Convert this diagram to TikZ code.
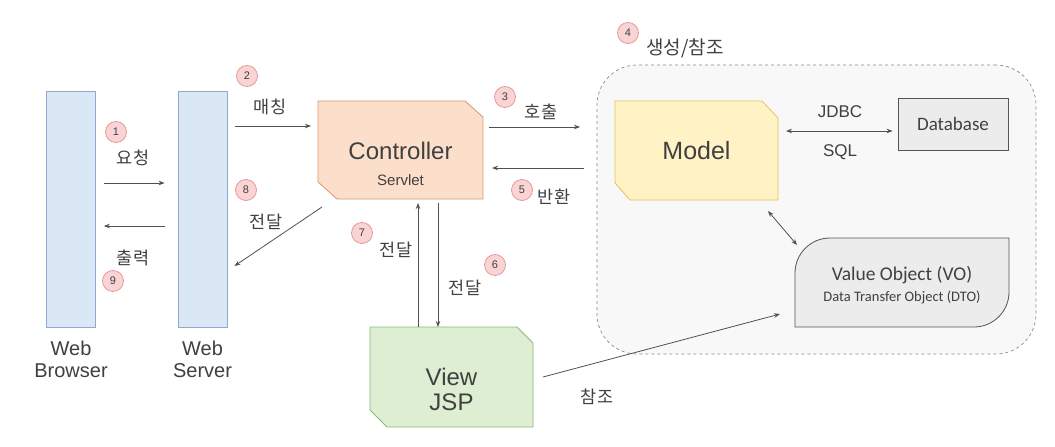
\documentclass[tikz,border=0pt]{standalone}
\usepackage{fontspec}
\setmainfont{Liberation Sans}
\newfontfamily\krfont{Noto Sans CJK KR}
\newfontfamily\calfont{Carlito}
\usetikzlibrary{arrows.meta,calc}
\definecolor{txt}{HTML}{404040}
\definecolor{ln}{HTML}{505050}
\definecolor{barfill}{HTML}{DAE8F5}
\definecolor{barline}{HTML}{8FAACC}
\definecolor{ctrlfill}{HTML}{FBDFCB}
\definecolor{ctrlline}{HTML}{D89A6E}
\definecolor{modelfill}{HTML}{FFF2C4}
\definecolor{modelline}{HTML}{E2C35A}
\definecolor{viewfill}{HTML}{DDEED3}
\definecolor{viewline}{HTML}{8DB877}
\definecolor{grayfill}{HTML}{ECECEC}
\definecolor{grayline}{HTML}{555555}
\definecolor{badgefill}{HTML}{FAD4D4}
\definecolor{badgeline}{HTML}{E59A9A}
\definecolor{contfill}{HTML}{F8F8F8}
\definecolor{contline}{HTML}{8A8A8A}
\newcommand{\fsz}[1]{\fontsize{#1}{#1}\selectfont}
\tikzset{
  ghost/.style={draw=none,inner sep=0pt,outer sep=0pt},
  bar/.style={draw=barline,fill=barfill,line width=0.8pt,inner sep=0pt,minimum width=49pt,minimum height=236pt},
  arr/.style={draw=ln,line width=0.8pt,-{Stealth[length=6pt,width=4.5pt]}},
  darr/.style={draw=ln,line width=0.8pt,{Stealth[length=6pt,width=4.5pt]}-{Stealth[length=6pt,width=4.5pt]}},
  badge/.style={circle,draw=badgeline,fill=badgefill,line width=0.8pt,minimum size=21pt,inner sep=0pt,text=txt,font=\fsz{11}},
  krlabel/.style={text=txt,font=\krfont\fsz{17.5},inner sep=0pt},
  lab/.style={text=txt,inner sep=0pt},
}
\begin{document}
\begin{tikzpicture}[x=1pt,y=-1pt]
\useasboundingbox[fill=white] (0,0) rectangle (1055,447);

% container
\node[draw=contline,fill=contfill,dashed,line width=0.7pt,rounded corners=40pt,minimum width=439pt,minimum height=289pt,inner sep=0pt] (mvc) at (816.5,209.5) {};

% bars
\node[bar] (browser) at (71,209) {};
\node[bar] (server) at (202.5,209) {};
\node[lab,font=\fsz{20},align=center] (browserlab) at (71,359) {Web\\[2pt]Browser};
\node[lab,font=\fsz{20},align=center] (serverlab) at (202.5,359) {Web\\[2pt]Server};

% controller
\node[ghost,minimum width=165pt,minimum height=98pt] (ctrl) at (400.5,150) {};
\draw[draw=ctrlline,fill=ctrlfill,line width=0.8pt]
  (ctrl.north west) -- ($(ctrl.north east)+(-18,0)$) -- ($(ctrl.north east)+(0,16)$)
  -- (ctrl.south east) -- ($(ctrl.south west)+(19,0)$) -- ($(ctrl.south west)+(0,-17)$) -- cycle;
\node[lab,font=\fsz{24}] (ctrltxt) at (400.5,151) {Controller};
\node[lab,font=\fsz{15}] (ctrlsub) at (400.5,180) {Servlet};

% model
\node[ghost,minimum width=163pt,minimum height=99pt] (model) at (696.5,150.5) {};
\draw[draw=modelline,fill=modelfill,line width=0.8pt]
  (model.north west) -- ($(model.north east)+(-16,0)$) -- ($(model.north east)+(0,17)$)
  -- (model.south east) -- ($(model.south west)+(15,0)$) -- ($(model.south west)+(0,-17)$) -- cycle;
\node[lab,font=\fsz{25}] (modeltxt) at (696.5,151) {Model};

% view
\node[ghost,minimum width=163pt,minimum height=100pt] (view) at (451.5,377) {};
\draw[draw=viewline,fill=viewfill,line width=0.8pt]
  (view.north west) -- ($(view.north east)+(-16,0)$) -- ($(view.north east)+(0,16)$)
  -- (view.south east) -- ($(view.south west)+(17,0)$) -- ($(view.south west)+(0,-17)$) -- cycle;
\node[lab,font=\fsz{24},align=center] (viewtxt) at (451.5,389) {View\\[1pt]JSP};

% database
\node[draw=grayline,fill=grayfill,line width=0.8pt,minimum width=110pt,minimum height=52pt,inner sep=0pt,text=txt,font=\calfont\fsz{19}] (db) at (953,124) {Database};

% VO
\node[ghost,minimum width=214pt,minimum height=89pt] (vo) at (902,282.5) {};
\draw[draw=grayline,fill=grayfill,line width=0.8pt]
  (vo.south west) -- (795,273) arc[start angle=180,end angle=270,radius=35]
  -- (vo.north east) -- (1009,292) arc[start angle=0,end angle=90,radius=35] -- cycle;
\node[lab,font=\calfont\fsz{19.5}] (votxt) at (902,275) {Value Object (VO)};
\node[lab,font=\calfont\fsz{14.5}] (dtotxt) at (902,297) {Data Transfer Object (DTO)};

% connectors
\draw[arr] ([xshift=8pt,yshift=26pt]browser.east) -- ([xshift=-13pt,yshift=26pt]server.west);
\draw[arr] ([xshift=-13pt,yshift=-17pt]server.west) -- ([xshift=8pt,yshift=-17pt]browser.east);
\draw[arr] ([xshift=8pt,yshift=83pt]server.east) -- ([xshift=-7pt,yshift=24pt]ctrl.west);
\draw[arr] ([xshift=4pt,yshift=-8pt]ctrl.south west) -- ([xshift=7pt,yshift=-57pt]server.east);
\draw[arr] ([xshift=6pt,yshift=23pt]ctrl.east) -- ([xshift=-35pt,yshift=23.5pt]model.west);
\draw[arr] ([xshift=-31pt,yshift=-17.5pt]model.west) -- ([xshift=9pt,yshift=-18pt]ctrl.east);
\draw[arr] ([xshift=17.5pt]ctrl.south |- view.north) -- ([xshift=17.5pt,yshift=-4pt]ctrl.south);
\draw[arr] ([xshift=37.5pt,yshift=-4pt]ctrl.south) -- ([xshift=37.5pt]ctrl.south |- view.north);
\draw[arr] ([xshift=10pt]view.east) -- ([xshift=-15pt,yshift=-31.5pt]vo.west);
\draw[darr] ([xshift=8pt,yshift=19.5pt]model.east) -- ([xshift=-5pt,yshift=-7pt]db.west);
\draw[darr] ([xshift=-10pt,yshift=-11pt]model.south east) -- ([xshift=2pt,yshift=-7pt]vo.north west);

% labels
\node[krlabel] (l1) at (133,158) {요청};
\node[krlabel] (l9) at (133,258) {출력};
\node[krlabel] (l2) at (270,107) {매칭};
\node[krlabel] (l8) at (266,222) {전달};
\node[krlabel] (l3) at (541,112) {호출};
\node[krlabel] (l5) at (554,197) {반환};
\node[krlabel] (l7) at (396,250) {전달};
\node[krlabel] (l6) at (465,288) {전달};
\node[krlabel,font=\krfont\fsz{19}] (l4) at (685,48) {생성/참조};
\node[krlabel] (lref) at (597,397) {참조};
\node[lab,font=\fsz{17}] (jdbc) at (840,112) {JDBC};
\node[lab,font=\fsz{17}] (sql) at (840,152) {SQL};

% badges
\node[badge] (b1) at (116,132) {1};
\node[badge] (b2) at (247,76) {2};
\node[badge] (b3) at (505,97) {3};
\node[badge] (b4) at (628,33) {4};
\node[badge] (b5) at (522,190) {5};
\node[badge] (b6) at (495,265) {6};
\node[badge] (b7) at (362,233) {7};
\node[badge] (b8) at (246,190) {8};
\node[badge] (b9) at (113,281) {9};
\end{tikzpicture}
\end{document}
